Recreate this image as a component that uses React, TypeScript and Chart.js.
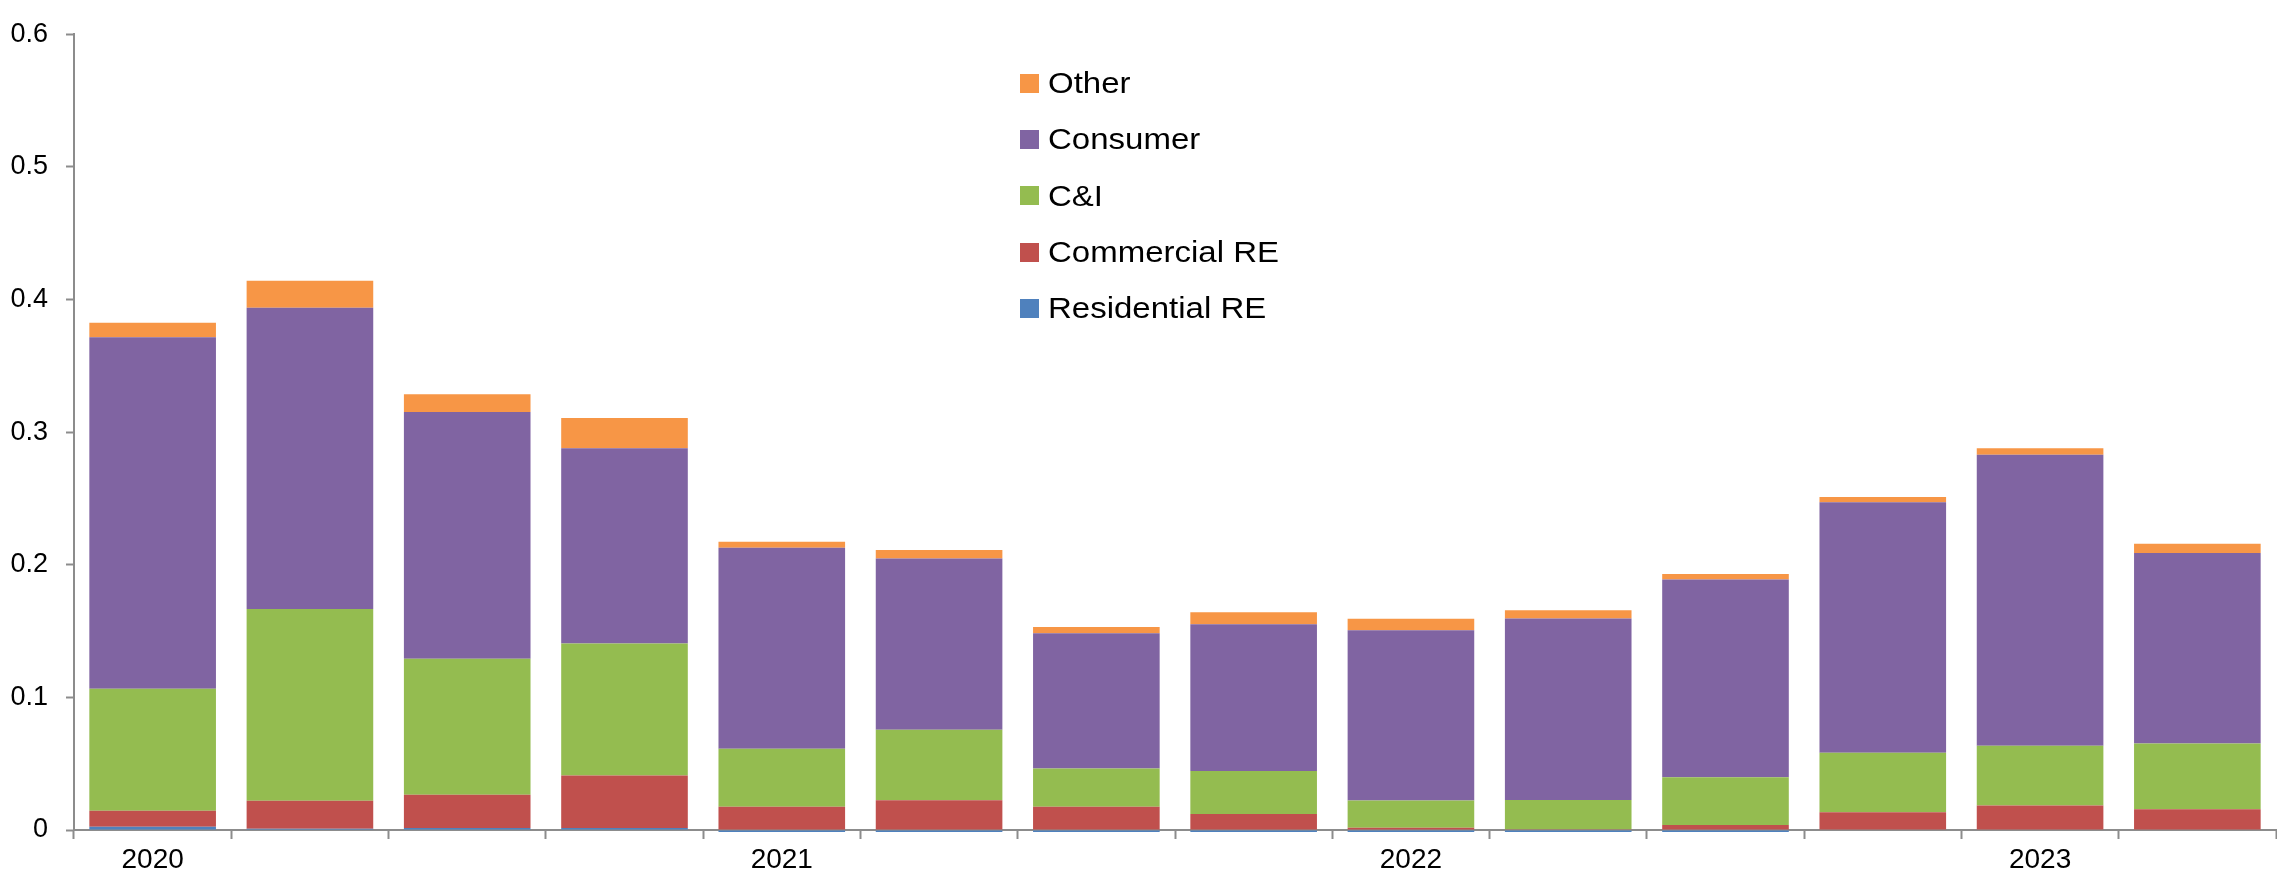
import React, { useEffect, useRef } from 'react';
import { Chart, registerables } from 'chart.js';

Chart.register(...registerables);

const quarters = [
  '2020 Q1', '2020 Q2', '2020 Q3', '2020 Q4',
  '2021 Q1', '2021 Q2', '2021 Q3', '2021 Q4',
  '2022 Q1', '2022 Q2', '2022 Q3', '2022 Q4',
  '2023 Q1', '2023 Q2',
];
const xTickLabels = ['2020', '', '', '', '2021', '', '', '', '2022', '', '', '', '2023', ''];

const residentialRE = [0.0025, 0.001, 0.0015, 0.0015, -0.0015, -0.0015, -0.0015, -0.0015, -0.0015, -0.0015, -0.0015, 0, 0, 0];
const commercialRE = [0.012, 0.021, 0.025, 0.0395, 0.0175, 0.0225, 0.0175, 0.0121, 0.0017, 0.0005, 0.0037, 0.0133, 0.0185, 0.0156];
const cAndI = [0.092, 0.1447, 0.1026, 0.0997, 0.0437, 0.0531, 0.0289, 0.0323, 0.0205, 0.0222, 0.0361, 0.045, 0.045, 0.0496];
const consumer = [0.265, 0.227, 0.186, 0.1471, 0.1516, 0.1291, 0.102, 0.1107, 0.1284, 0.1368, 0.1491, 0.1889, 0.2195, 0.1437];
const other = [0.011, 0.0205, 0.0135, 0.0228, 0.0045, 0.0064, 0.0047, 0.0091, 0.0087, 0.0062, 0.0042, 0.0039, 0.0049, 0.0069];

const seriesNames = ['Residential RE', 'Commercial RE', 'C&I', 'Consumer', 'Other'];
const seriesValues = [residentialRE, commercialRE, cAndI, consumer, other];
const seriesColors = ['#4F81BD', '#C0504D', '#94BC50', '#8064A2', '#F79646'];

const yMin = 0;
const yMax = 0.6;
const yStep = 0.1;

const FONT = '"Liberation Sans", Arial, sans-serif';
const AXIS_GRAY = '#8c8c8c';

export default function App() {
  const canvasRef = useRef<HTMLCanvasElement | null>(null);

  useEffect(() => {
    const canvas = canvasRef.current;
    if (!canvas) return;
    const chart = new Chart(canvas, {
      type: 'bar',
      data: {
        labels: quarters,
        datasets: seriesNames.map((name, i) => ({
          label: name,
          data: seriesValues[i],
          backgroundColor: seriesColors[i],
          borderWidth: 0,
          categoryPercentage: 1,
          barPercentage: 0.805,
          clip: false as any,
        })),
      },
      options: {
        animation: false,
        responsive: false,
        devicePixelRatio: 1,
        layout: { padding: { top: 21, right: 1, left: 0, bottom: 0 } },
        plugins: {
          legend: { display: false },
          tooltip: { enabled: false },
        },
        scales: {
          x: {
            stacked: true,
            offset: true,
            z: 1,
            grid: {
              offset: true,
              drawOnChartArea: false,
              drawTicks: true,
              tickLength: 9,
              tickWidth: 2,
              tickColor: AXIS_GRAY,
              color: AXIS_GRAY,
            },
            border: { display: true, color: AXIS_GRAY, width: 2 },
            ticks: {
              autoSkip: false,
              maxRotation: 0,
              minRotation: 0,
              padding: 4,
              color: '#000',
              font: { family: FONT, size: 28 },
              callback: (_v: any, i: number) => xTickLabels[i],
            },
            afterFit: (scale: any) => {
              scale.height = 45;
            },
          },
          y: {
            stacked: true,
            min: yMin,
            max: yMax,
            z: 1,
            grid: {
              drawOnChartArea: false,
              drawTicks: true,
              tickLength: 8,
              tickWidth: 2,
              tickColor: AXIS_GRAY,
              color: AXIS_GRAY,
            },
            border: { display: true, color: AXIS_GRAY, width: 2 },
            ticks: {
              stepSize: yStep,
              padding: 18,
              color: '#000',
              font: { family: FONT, size: 27 },
              callback: (v: any) => String(Number(Number(v).toFixed(1))),
            },
            afterFit: (scale: any) => {
              scale.width = 74;
            },
          },
        },
      },
    });
    return () => chart.destroy();
  }, []);

  const legendItems = seriesNames.map((n, i) => ({ name: n, color: seriesColors[i] })).reverse();

  return (
    <div style={{ position: 'absolute', left: 0, top: 0, width: 2277, height: 875, background: '#fff' }}>
      <canvas ref={canvasRef} width={2277} height={875} style={{ display: 'block', width: 2277, height: 875 }} />
      <div style={{ position: 'absolute', left: 1020, top: 55 }}>
        {legendItems.map((it) => (
          <div key={it.name} style={{ display: 'flex', alignItems: 'center', height: 56.3 }}>
            <div style={{ width: 19, height: 19, background: it.color, marginRight: 9, flex: 'none' }} />
            <div
              style={{
                fontFamily: FONT,
                fontSize: 30,
                color: '#000',
                lineHeight: '30px',
                whiteSpace: 'nowrap',
                transform: 'scaleX(1.1)',
                transformOrigin: 'left center',
              }}
            >
              {it.name}
            </div>
          </div>
        ))}
      </div>
    </div>
  );
}
